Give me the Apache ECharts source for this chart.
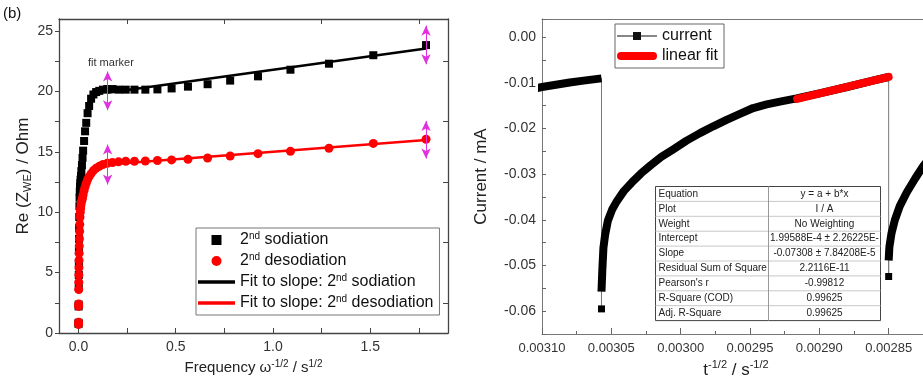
<!DOCTYPE html>
<html>
<head>
<meta charset="utf-8">
<script src="https://cdn.jsdelivr.net/npm/echarts@6/dist/echarts.min.js"></script>
<style>
  html, body { margin: 0; padding: 0; background: #fff; }
  #chart { width: 923px; height: 383px; }
</style>
</head>
<body>
<div id="chart"></div>
<script>
// ---- Panel (b): Re(Z_WE) versus omega^-1/2 ----
const omegaInvSqrt = [0.0004, 0.0006, 0.0010, 0.0012, 0.0015, 0.0018, 0.0021, 0.0025, 0.0030, 0.0035,
  0.0041, 0.0049, 0.0058, 0.0068, 0.0080, 0.0094, 0.011, 0.013, 0.015, 0.018,
  0.021, 0.024, 0.029, 0.034, 0.040, 0.047, 0.055, 0.065, 0.077, 0.091,
  0.107, 0.126, 0.148, 0.175, 0.206, 0.243, 0.288, 0.344, 0.406, 0.479,
  0.563, 0.664, 0.780, 0.923, 1.090, 1.288, 1.516, 1.787];
const sodiationRe = [0.75, 0.85, 2.2, 2.35, 3.8, 4.8, 5.8, 6.8, 7.8, 8.7,
  9.6, 10.5, 11.2, 11.7, 12.1, 12.4, 12.7, 13.0, 13.4, 13.9,
  14.5, 15.1, 15.9, 16.7, 17.4, 18.2, 18.8, 19.4, 19.75, 19.95,
  20.05, 20.15, 20.2, 20.2, 20.15, 20.15, 20.15, 20.15, 20.17, 20.25,
  20.4, 20.6, 20.9, 21.25, 21.8, 22.3, 23.0, 23.84];
const desodiationRe = [0.7, 0.9, 2.2, 2.4, 3.6, 4.2, 4.8, 5.4, 6.0, 6.6,
  7.2, 7.8, 8.4, 9.0, 9.6, 10.0, 10.3, 10.6, 10.85, 11.0,
  11.2, 11.45, 11.8, 12.1, 12.4, 12.7, 12.95, 13.2, 13.45, 13.65,
  13.8, 13.95, 14.05, 14.12, 14.17, 14.22, 14.22, 14.24, 14.28, 14.33,
  14.38, 14.49, 14.66, 14.85, 15.04, 15.3, 15.7, 16.04];

// straight-line fits over the Warburg region
const fitX = [0.15, 1.787];
const sodiationFit = [19.9, 23.55];
const desodiationFit = [13.95, 15.98];

// fit-range markers (double arrows): x position, lower and upper ends
const markerX = [0.15, 1.787];
const sodiationMarkerLow = [18.45, 22.25];
const sodiationMarkerHigh = [21.65, 25.45];
const desodiationMarkerLow = [12.3, 14.45];
const desodiationMarkerHigh = [15.6, 17.55];

const leftXTicks = [0, 0.25, 0.5, 0.75, 1.0, 1.25, 1.5, 1.75];
const leftXLabels = [0, 0.5, 1.0, 1.5];
const leftXTopTicks = [0.25, 0.75, 1.25, 1.75];
const leftYTicks = [0, 2.5, 5, 7.5, 10, 12.5, 15, 17.5, 20, 22.5, 25];
const leftYLabels = [0, 5, 10, 15, 20, 25];
const leftYRightTicks = [2.5, 7.5, 12.5, 17.5, 22.5];

// ---- Right panel: current versus t^-1/2 ----
const tailT = [0.003110, 0.003100, 0.003090, 0.003080, 0.003070, 0.0030571];
const tailI = [-0.0115, -0.0109, -0.0104, -0.0099, -0.0095, -0.0090];
const spikeT = [0.0030571, 0.00285];
const spikeI = [-0.0595, -0.0524];
const relax1T = [0.0030571, 0.0030565, 0.0030557, 0.0030545, 0.0030525, 0.0030495, 0.0030460, 0.0030410,
  0.0030352, 0.0030285, 0.0030215, 0.0030140, 0.0030056, 0.0029960, 0.0029861, 0.0029765,
  0.0029669, 0.0029573, 0.0029477, 0.0029380, 0.0029284, 0.0029164, 0.0029000, 0.0028800,
  0.0028600, 0.0028500];
const relax1I = [-0.0557, -0.0510, -0.0461, -0.0433, -0.0402, -0.0378, -0.0359, -0.0337,
  -0.0318, -0.0298, -0.0280, -0.0262, -0.0246, -0.0227, -0.0210, -0.0195,
  -0.0181, -0.0168, -0.0155, -0.0147, -0.0141, -0.0134, -0.0123, -0.0109,
  -0.0094, -0.0087];
const relax2T = [0.0028500, 0.0028495, 0.0028480, 0.0028455, 0.0028420, 0.0028370, 0.0028310, 0.0028250, 0.0028180];
const relax2I = [-0.0489, -0.0460, -0.0430, -0.0400, -0.0370, -0.0340, -0.0310, -0.0282, -0.0255];

// linear fit (current in A), drawn in mA over its fitted range
const fitIntercept = 1.99588e-4;
const fitSlope = -0.07308;
const fitRangeT = [0.002916, 0.00285];

const rightYLabels = [0, -0.01, -0.02, -0.03, -0.04, -0.05, -0.06];

const tableRows = ['Equation', 'Plot', 'Weight', 'Intercept', 'Slope', 'Residual Sum of Square', "Pearson's r", 'R-Square (COD)', 'Adj. R-Square'];
const tableValues = ['y = a + b*x', 'I / A', 'No Weighting', '1.99588E-4 ± 2.26225E-', '-0.07308 ± 7.84208E-5', '2.2116E-11', '-0.99812', '0.99625', '0.99625'];

// ---------------------------------------------------------------
const FONT = "'Liberation Sans', Arial, sans-serif";
const zip = (xs, ys) => xs.map((x, i) => [x, ys[i]]);
const leftLine = { lineStyle: { color: '#444', width: 1.3 } };
const rightLine = { lineStyle: { color: '#777', width: 1 } };
const sup = { fontSize: 10, lineHeight: 10, verticalAlign: 'top', fontFamily: FONT };

const currentData = [];
tailT.forEach((t, i) => currentData.push({ value: [t, tailI[i]], symbol: 'none' }));
currentData.push({ value: [spikeT[0], spikeI[0]] });
relax1T.forEach((t, i) => currentData.push({ value: [t, relax1I[i]], symbol: 'none' }));
currentData.push({ value: [spikeT[1], spikeI[1]] });
relax2T.forEach((t, i) => currentData.push({ value: [t, relax2I[i]], symbol: 'none' }));

const traceData = [].concat(zip(tailT, tailI), [null], zip(relax1T, relax1I), [null], zip(relax2T, relax2I));
const fitLineData = fitRangeT.map(t => [t, (fitIntercept + fitSlope * t) * 1000]);

const arrowPairs = (low, high) => markerX.map((x, i) => [{ coord: [x, low[i]] }, { coord: [x, high[i]] }]);
const arrowMarks = (low, high) => ({
  silent: true,
  symbol: ['arrow', 'arrow'],
  symbolSize: [7, 10],
  label: { show: false },
  lineStyle: { color: '#e030e0', width: 1, type: 'solid' },
  data: arrowPairs(low, high)
});

// statistics table
const tableX = 653, tableY = 184, tableW = 225, colSplit = 113, rowH = 14.9;
const tableChildren = [];
tableChildren.push({ type: 'rect', shape: { x: 0, y: 0, width: tableW, height: rowH * tableRows.length }, style: { fill: '#fff', stroke: '#444', lineWidth: 1 } });
for (let i = 1; i < tableRows.length; i++) {
  tableChildren.push({ type: 'line', shape: { x1: 0, y1: i * rowH, x2: tableW, y2: i * rowH }, style: { stroke: '#c8c8c8', lineWidth: 1 } });
}
tableChildren.push({ type: 'line', shape: { x1: colSplit, y1: 0, x2: colSplit, y2: rowH * tableRows.length }, style: { stroke: '#999', lineWidth: 1 } });
tableRows.forEach((r, i) => {
  tableChildren.push({ type: 'text', x: 3, y: i * rowH + rowH / 2, style: { text: r, font: '10px ' + FONT, fill: '#222', verticalAlign: 'middle', align: 'left' } });
  tableChildren.push({ type: 'text', x: colSplit + (tableW - colSplit) / 2, y: i * rowH + rowH / 2, style: { text: tableValues[i], font: '10px ' + FONT, fill: '#222', verticalAlign: 'middle', align: 'center' } });
});

const option = {
  animation: false,
  backgroundColor: '#fff',
  textStyle: { fontFamily: FONT },
  grid: [
    { left: 59, top: 19, width: 389, height: 314, outerBoundsMode: 'none' },
    { left: 542, top: 19, width: 416, height: 315, outerBoundsMode: 'none' }
  ],
  xAxis: [
    {
      gridIndex: 0, type: 'value', min: -0.1, max: 1.9, position: 'bottom',
      axisLine: Object.assign({ onZero: false }, leftLine),
      axisTick: { inside: true, length: 5, customValues: leftXTicks, lineStyle: { color: '#444' } },
      axisLabel: { customValues: leftXLabels, formatter: v => v.toFixed(1), fontSize: 14, color: '#333', margin: 7 },
      splitLine: { show: false },
      name: 'Frequency ω{sup|-1/2} / s{sup|1/2}', nameLocation: 'middle', nameGap: 24,
      nameTextStyle: { fontSize: 15, color: '#222', lineHeight: 18, rich: { sup: sup } }
    },
    {
      gridIndex: 0, type: 'value', min: -0.1, max: 1.9, position: 'top',
      axisLine: Object.assign({ onZero: false }, leftLine),
      axisTick: { inside: true, length: 5, customValues: leftXTopTicks, lineStyle: { color: '#444' } },
      axisLabel: { show: false }, splitLine: { show: false }
    },
    {
      gridIndex: 1, type: 'value', inverse: true, min: 0.0028, max: 0.0031, interval: 0.00005, position: 'bottom',
      axisLine: Object.assign({ onZero: false }, rightLine),
      axisTick: { inside: true, length: 6, lineStyle: { color: '#666' } },
      minorTick: { show: true, splitNumber: 2, length: 3, lineStyle: { color: '#666' } },
      axisLabel: { formatter: v => v.toFixed(5), fontSize: 13, color: '#333', margin: 8 },
      splitLine: { show: false },
      name: 't{sup|-1/2} / s{sup|-1/2}', nameLocation: 'middle', nameGap: 23,
      nameTextStyle: { fontSize: 17, color: '#222', lineHeight: 20, padding: [0, 28, 0, 0], rich: { sup: { fontSize: 11, lineHeight: 11, verticalAlign: 'top', fontFamily: FONT } } }
    },
    {
      gridIndex: 1, type: 'value', inverse: true, min: 0.0028, max: 0.0031, position: 'top',
      axisLine: Object.assign({ onZero: false }, rightLine),
      axisTick: { show: false }, axisLabel: { show: false }, splitLine: { show: false }
    }
  ],
  yAxis: [
    {
      gridIndex: 0, type: 'value', min: 0, max: 26, position: 'left',
      axisLine: Object.assign({ onZero: false }, leftLine),
      axisTick: { inside: false, length: 4, customValues: leftYTicks, lineStyle: { color: '#444' } },
      axisLabel: { customValues: leftYLabels, fontSize: 14, color: '#333', margin: 6 },
      splitLine: { show: false },
      name: 'Re (Z{sub|WE}) / Ohm', nameLocation: 'middle', nameRotate: 90, nameGap: 25,
      nameTextStyle: { fontSize: 17, color: '#222', lineHeight: 20, rich: { sub: { fontSize: 11, lineHeight: 11, verticalAlign: 'bottom', fontFamily: FONT } } }
    },
    {
      gridIndex: 0, type: 'value', min: 0, max: 26, position: 'right',
      axisLine: Object.assign({ onZero: false }, leftLine),
      axisTick: { inside: true, length: 5, customValues: leftYRightTicks, lineStyle: { color: '#444' } },
      axisLabel: { show: false }, splitLine: { show: false }
    },
    {
      gridIndex: 1, type: 'value', min: -0.065, max: 0.004, interval: 0.005, position: 'left',
      axisLine: Object.assign({ onZero: false }, rightLine),
      axisTick: { inside: true, length: 4, lineStyle: { color: '#666' } },
      axisLabel: { customValues: rightYLabels, formatter: v => v.toFixed(2), fontSize: 14, color: '#333', margin: 6 },
      splitLine: { show: false },
      name: 'Current / mA', nameLocation: 'middle', nameRotate: 90, nameGap: 52,
      nameTextStyle: { fontSize: 17, color: '#222' }
    }
  ],
  legend: [
    {
      left: 196, top: 228, orient: 'vertical',
      borderColor: '#777', borderWidth: 1, padding: [3, 6, 3, 2],
      itemWidth: 37, itemHeight: 10, itemGap: 3,
      textStyle: { fontSize: 16, color: '#111', lineHeight: 18, rich: { sup: sup } },
      formatter: name => name.replace('2nd', '2{sup|nd}'),
      data: [
        { name: '2nd sodiation', icon: 'path://M0,0h10v10h-10z' },
        { name: '2nd desodiation', icon: 'circle' },
        { name: 'Fit to slope: 2nd sodiation', icon: 'path://M0,0h37v3.5h-37z' },
        { name: 'Fit to slope: 2nd desodiation', icon: 'path://M0,0h37v3.5h-37z' }
      ]
    },
    {
      left: 615, top: 24, orient: 'vertical',
      borderColor: '#666', borderWidth: 1, padding: [3, 6, 3, 2],
      itemWidth: 40, itemHeight: 12, itemGap: 2,
      textStyle: { fontSize: 16, color: '#111', lineHeight: 18 },
      data: [
        { name: 'current', icon: 'path://M0,5.5h16v-3.5h8v3.5h16v1h-16v3.5h-8v-3.5h-16z', itemStyle: { color: '#111' } },
        { name: 'linear fit', icon: 'path://M4,0h32a4,4 0 0 1 0,8h-32a4,4 0 0 1 0,-8z' }
      ]
    }
  ],
  series: [
    {
      name: '2nd sodiation', type: 'scatter', xAxisIndex: 0, yAxisIndex: 0,
      symbol: 'rect', symbolSize: 8, itemStyle: { color: '#000', opacity: 1 },
      data: zip(omegaInvSqrt, sodiationRe), z: 2
    },
    {
      name: '2nd desodiation', type: 'scatter', xAxisIndex: 0, yAxisIndex: 0,
      symbol: 'circle', symbolSize: 9, itemStyle: { color: '#f00', opacity: 1 },
      data: zip(omegaInvSqrt, desodiationRe), z: 3
    },
    {
      name: 'Fit to slope: 2nd sodiation', type: 'line', xAxisIndex: 0, yAxisIndex: 0,
      symbol: 'none', lineStyle: { color: '#000', width: 2.5 }, itemStyle: { color: '#000' },
      data: zip(fitX, sodiationFit), z: 4,
      markLine: arrowMarks(sodiationMarkerLow, sodiationMarkerHigh)
    },
    {
      name: 'Fit to slope: 2nd desodiation', type: 'line', xAxisIndex: 0, yAxisIndex: 0,
      symbol: 'none', lineStyle: { color: '#f00', width: 2.5 }, itemStyle: { color: '#f00' },
      data: zip(fitX, desodiationFit), z: 4,
      markLine: arrowMarks(desodiationMarkerLow, desodiationMarkerHigh)
    },
    {
      name: 'current', type: 'line', xAxisIndex: 2, yAxisIndex: 2,
      symbol: 'rect', symbolSize: 7, showSymbol: true,
      lineStyle: { color: '#777', width: 1 }, itemStyle: { color: '#000' },
      data: currentData, z: 2
    },
    {
      name: 'current trace', type: 'line', xAxisIndex: 2, yAxisIndex: 2,
      symbol: 'none', connectNulls: false,
      lineStyle: { color: '#000', width: 8, cap: 'butt', join: 'round' },
      data: traceData, z: 3
    },
    {
      name: 'linear fit', type: 'line', xAxisIndex: 2, yAxisIndex: 2,
      symbol: 'none', lineStyle: { color: '#f00', width: 8, cap: 'round' }, itemStyle: { color: '#f00' },
      data: fitLineData, z: 4
    }
  ],
  graphic: [
    { type: 'text', left: 3, top: 6, style: { text: '(b)', font: '15px ' + FONT, fill: '#111' } },
    { type: 'text', left: 88, top: 57, style: { text: 'fit marker', font: '11px ' + FONT, fill: '#333' } },
    { type: 'group', left: tableX, top: tableY, children: tableChildren, z: 100 }
  ]
};

const chart = echarts.init(document.getElementById('chart'), null, { renderer: 'canvas' });
chart.setOption(option);
</script>
</body>
</html>
